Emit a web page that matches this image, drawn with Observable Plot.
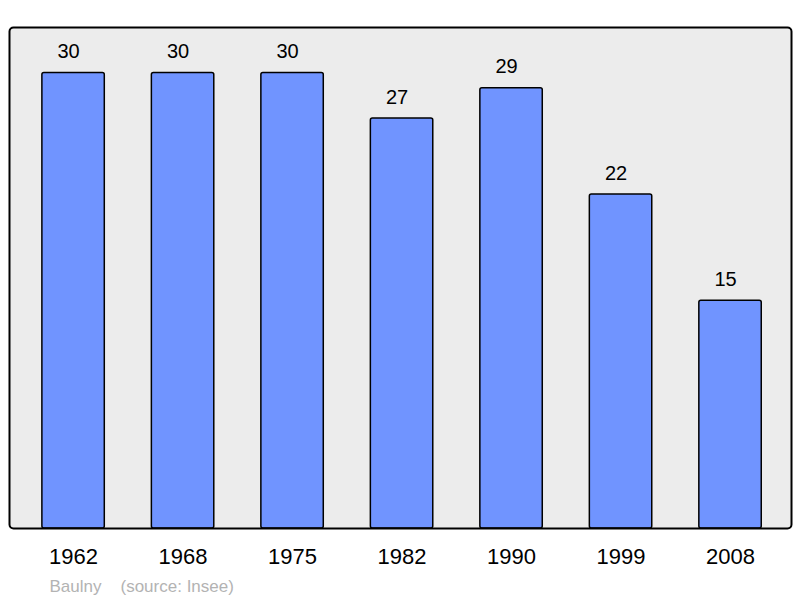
<!DOCTYPE html>
<html><head><meta charset="utf-8">
<script src="https://cdn.jsdelivr.net/npm/d3@7"></script>
<script src="https://cdn.jsdelivr.net/npm/@observablehq/plot@0.6"></script>
<style>body{margin:0;background:#fff}</style>
</head><body><div id="chart"></div>
<script>
const years = ["1962","1968","1975","1982","1990","1999","2008"];
const population = [30,30,30,27,29,22,15];
const commune = "Baulny";
const source = "(source: Insee)";
const data = years.map((y,i)=>({year:y, pop:population[i]}));
const font = "Liberation Sans, Arial, sans-serif";
const chart = Plot.plot({
  width: 800, height: 598,
  marginLeft: 9, marginRight: 9, marginTop: 27, marginBottom: 70,
  style: {fontFamily: font, background: "#fff"},
  x: {domain: years, paddingInner: 0.43, paddingOuter: 0.286, align: 0.525, round: false, axis: null},
  y: {domain: [0, 33], axis: null},
  marks: [
    Plot.frame({fill: "#ececec", stroke: "none"}),
    Plot.barY(data, {x: "year", y: "pop", fill: "#7094ff", stroke: "#000", strokeWidth: 1.5, rx: 2}),
    Plot.frame({stroke: "#000", strokeWidth: 2, rx: 4}),
    Plot.text(data, {x: "year", y: "pop", text: d => String(d.pop), dx: -5, dy: -15, lineAnchor: "bottom", fontSize: 20, fill: "#000"}),
    Plot.text(years, {x: d => d, frameAnchor: "bottom", text: d => d, dy: 35, lineAnchor: "bottom", fontSize: 22, fill: "#000"}),
    Plot.text([commune], {frameAnchor: "bottom-left", text: d => d, dx: 40, dy: 63, lineAnchor: "bottom", fontSize: 17, fill: "#b3b3b3", textAnchor: "start"}),
    Plot.text([source], {frameAnchor: "bottom-left", text: d => d, dx: 111, dy: 63, lineAnchor: "bottom", fontSize: 17, fill: "#b3b3b3", textAnchor: "start"})
  ]
});
document.getElementById("chart").appendChild(chart);
</script></body></html>
